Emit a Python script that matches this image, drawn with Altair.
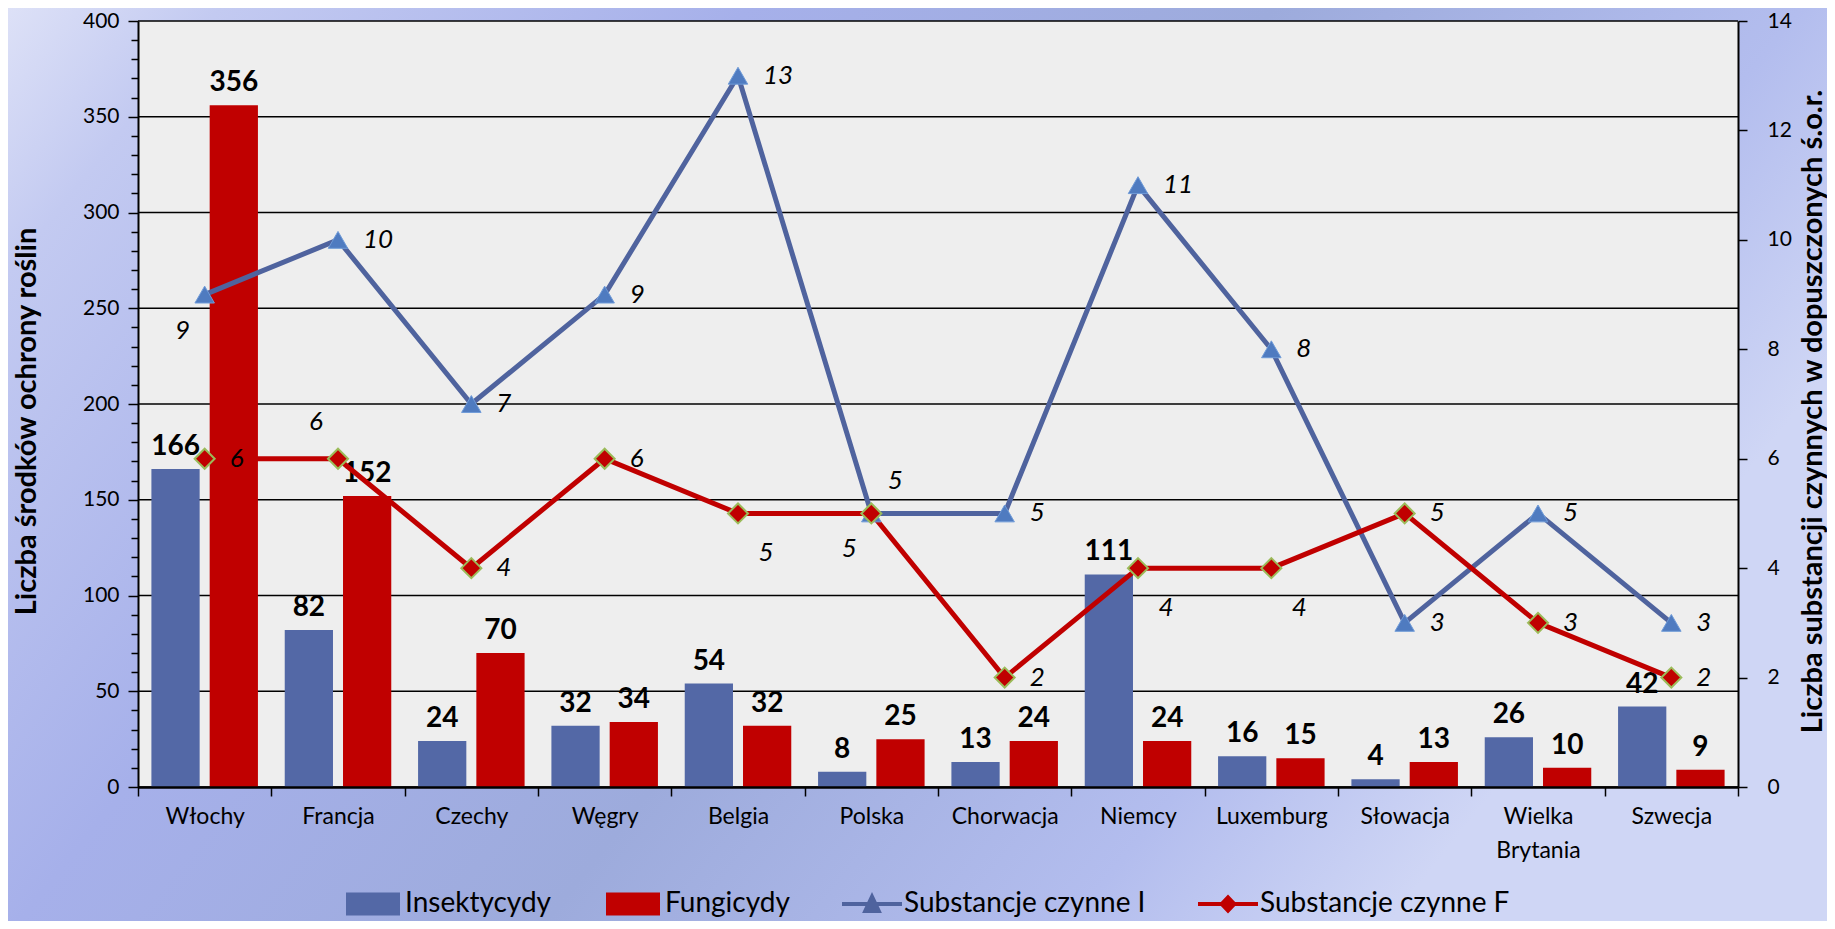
import altair as alt
import pandas as pd

countries = ["Włochy", "Francja", "Czechy", "Węgry", "Belgia", "Polska", "Chorwacja",
             "Niemcy", "Luxemburg", "Słowacja", "Wielka\nBrytania", "Szwecja"]
insektycydy = [166, 82, 24, 32, 54, 8, 13, 111, 16, 4, 26, 42]
fungicydy = [356, 152, 70, 34, 32, 25, 24, 24, 15, 13, 10, 9]
subst_i = [9, 10, 7, 9, 13, 5, 5, 11, 8, 3, 5, 3]
subst_f = [6, 6, 4, 6, 5, 5, 2, 4, 4, 5, 3, 2]
# where each line value label sits relative to its marker (as in the reference)
place_i = ["below-left", "right", "right", "right", "right", "above-right", "right",
           "right", "right", "right", "right", "right"]
place_f = ["right", "above-left", "right", "right", "below-right", "below-left", "right",
           "below-right", "below-right", "right", "right", "right"]

series_names = ["Insektycydy", "Fungicydy", "Substancje czynne I", "Substancje czynne F"]
series_colors = ["#5368A6", "#C00000", "#4F639E", "#C00000"]
legend_shapes = [
    "M-0.9,-0.38 H0.9 V0.38 H-0.9 Z",
    "M-0.9,-0.38 H0.9 V0.38 H-0.9 Z",
    "M-1,-0.07 H1 V0.07 H-1 Z M0,-0.4 L0.33,0.3 L-0.33,0.3 Z",
    "M-1,-0.07 H1 V0.07 H-1 Z M0,-0.32 L0.3,0 L0,0.32 L-0.3,0 Z",
]
left_ticks = [0, 50, 100, 150, 200, 250, 300, 350, 400]
left_minor = list(range(0, 401, 10))
right_ticks = [0, 2, 4, 6, 8, 10, 12, 14]

W, H = 1600, 766
PL, PT, PR, PB = 130, 13, 89, 134
FONT = "Lato"

placements = {
    "right": dict(align="left", dx=25, dy=0),
    "below-left": dict(align="center", dx=-22, dy=36),
    "above-right": dict(align="center", dx=24, dy=-32),
    "above-left": dict(align="center", dx=-22, dy=-37),
    "below-right": dict(align="center", dx=28, dy=40),
}

df_bars = pd.DataFrame({
    "country": countries * 2,
    "series": [series_names[0]] * len(countries) + [series_names[1]] * len(countries),
    "value": insektycydy + fungicydy,
})
df_lines = pd.DataFrame({
    "country": countries * 2,
    "series": [series_names[2]] * len(countries) + [series_names[3]] * len(countries),
    "value": subst_i + subst_f,
    "place": place_i + place_f,
})
df_grid = pd.DataFrame({"value": left_ticks})
df_legend = pd.DataFrame({"series": series_names})

color_scale = alt.Scale(domain=series_names, range=series_colors)
shape_scale = alt.Scale(domain=series_names, range=legend_shapes)

legend_def = dict(title=None, orient="none", legendX=205, legendY=853,
                  direction="horizontal", symbolSize=3600, labelFontSize=28,
                  labelFont=FONT, labelColor="black", columnPadding=52, labelOffset=2,
                  symbolOpacity=1, symbolStrokeWidth=0, labelLimit=500, zindex=1)

x_axis = alt.Axis(title=None, labelAngle=0, labelExpr="split(datum.label, '\\n')",
                  tickBand="extent", tickSize=9, tickColor="black", tickWidth=1.5,
                  domainColor="black", domainWidth=2.5, labelFontSize=23, labelFont=FONT,
                  labelColor="black", labelPadding=9, labelLineHeight=34, zindex=1)
x_enc = alt.X("country:N", sort=countries,
              scale=alt.Scale(paddingInner=0, paddingOuter=0), axis=x_axis)
xoff_enc = alt.XOffset("series:N", sort=series_names[:2],
                       scale=alt.Scale(paddingInner=0.172, paddingOuter=0.23))

left_axis = alt.Axis(
    title="Liczba środków ochrony roślin", values=left_minor,
    labelExpr="datum.value % 50 === 0 ? datum.label : ''", labelOverlap=False,
    tickSize={"condition": {"test": "datum.value % 50 === 0", "value": 10}, "value": 7},
    tickColor="black", tickWidth=1.5, domainColor="black", domainWidth=2,
    labelFontSize=21, labelFont=FONT, labelColor="black", labelPadding=9,
    titleFontSize=29, titleFont=FONT, titleFontWeight="bold", titleColor="black",
    titlePadding=41, titleY=400, grid=False, zindex=1)
y_left = alt.Y("value:Q", scale=alt.Scale(domain=[0, 400], nice=False), axis=left_axis)

right_axis = alt.Axis(
    title="Liczba substancji czynnych w dopuszczonych ś.o.r.", orient="right",
    values=right_ticks, labelOverlap=False, tickSize=9, tickColor="black", tickWidth=1.5,
    domainColor="black", domainWidth=2, labelFontSize=21, labelFont=FONT,
    labelColor="black", labelPadding=20, titleFontSize=29, titleFont=FONT,
    titleFontWeight="bold", titleColor="black", titlePadding=36, titleAngle=270,
    titleY=390, grid=False, zindex=1)
y_right = alt.Y("value:Q", scale=alt.Scale(domain=[0, 14], nice=False), axis=right_axis)

background = alt.Chart(df_legend).mark_rect(
    fill=alt.LinearGradient(
        gradient="linear", x1=0, y1=0, x2=1, y2=0.4,
        stops=[alt.GradientStop(color="#DDE1F7", offset=0),
               alt.GradientStop(color="#C3CAF1", offset=0.1),
               alt.GradientStop(color="#A6B0EA", offset=0.35),
               alt.GradientStop(color="#9DABDC", offset=0.6),
               alt.GradientStop(color="#B3BDEE", offset=0.85),
               alt.GradientStop(color="#CFD6F5", offset=1)]),
).encode(x=alt.value(-PL), x2=alt.value(W + PR), y=alt.value(-PT), y2=alt.value(H + PB))

plot_bg = alt.Chart(df_legend).mark_rect(fill="#EEEEEE").encode(
    x=alt.value(0), x2=alt.value(W), y=alt.value(0), y2=alt.value(H))

grid = alt.Chart(df_grid).mark_rule(color="black", strokeWidth=1.5).encode(y=y_left)

bars = alt.Chart(df_bars).mark_bar().encode(
    x=x_enc,
    xOffset=xoff_enc,
    y=y_left,
    color=alt.Color("series:N", scale=color_scale, legend=alt.Legend(**legend_def)),
)
bar_labels = alt.Chart(df_bars).mark_text(
    font=FONT, fontSize=28, fontWeight="bold", color="black", baseline="bottom", dy=-8
).encode(x=x_enc, xOffset=xoff_enc, y=y_left, text="value:Q")

left_group = alt.layer(background, plot_bg, grid, bars, bar_labels)

base_i = alt.Chart(df_lines).transform_filter(alt.datum.series == series_names[2])
base_f = alt.Chart(df_lines).transform_filter(alt.datum.series == series_names[3])

line_i = base_i.mark_line(color="#4F639E", strokeWidth=5).encode(x=x_enc, y=y_right)
pts_i = base_i.mark_point(shape="triangle-up", filled=True, size=380, fill="#4F7BC0",
                          stroke="#6F9BD8", strokeWidth=1, opacity=1).encode(x=x_enc, y=y_right)
line_f = base_f.mark_line(color="#C00000", strokeWidth=5).encode(x=x_enc, y=y_right)
pts_f = base_f.mark_point(shape="diamond", filled=True, size=400, fill="#C00000",
                          stroke="#9BBB59", strokeWidth=2, opacity=1).encode(x=x_enc, y=y_right)

label_layers = []
for base in (base_i, base_f):
    for name, opts in placements.items():
        label_layers.append(
            base.transform_filter(alt.datum.place == name).mark_text(
                font=FONT, fontSize=26, fontStyle="italic", color="black",
                baseline="middle", **opts
            ).encode(x=x_enc, y=y_right, text="value:Q")
        )

legend_layer = alt.Chart(df_legend).mark_point(filled=True, opacity=0).encode(
    x=alt.value(0), y=alt.value(0),
    color=alt.Color("series:N", scale=color_scale, legend=alt.Legend(**legend_def)),
    shape=alt.Shape("series:N", scale=shape_scale, legend=alt.Legend(**legend_def)),
)

right_group = alt.layer(line_i, line_f, pts_i, pts_f, *label_layers, legend_layer)

chart = alt.layer(left_group, right_group).resolve_scale(y="independent").properties(
    width=W, height=H, autosize="none",
    padding={"left": PL, "top": PT, "right": PR, "bottom": PB},
).configure_view(stroke=None)

chart.save("out.html", embed_options={"renderer": "svg", "actions": False})
